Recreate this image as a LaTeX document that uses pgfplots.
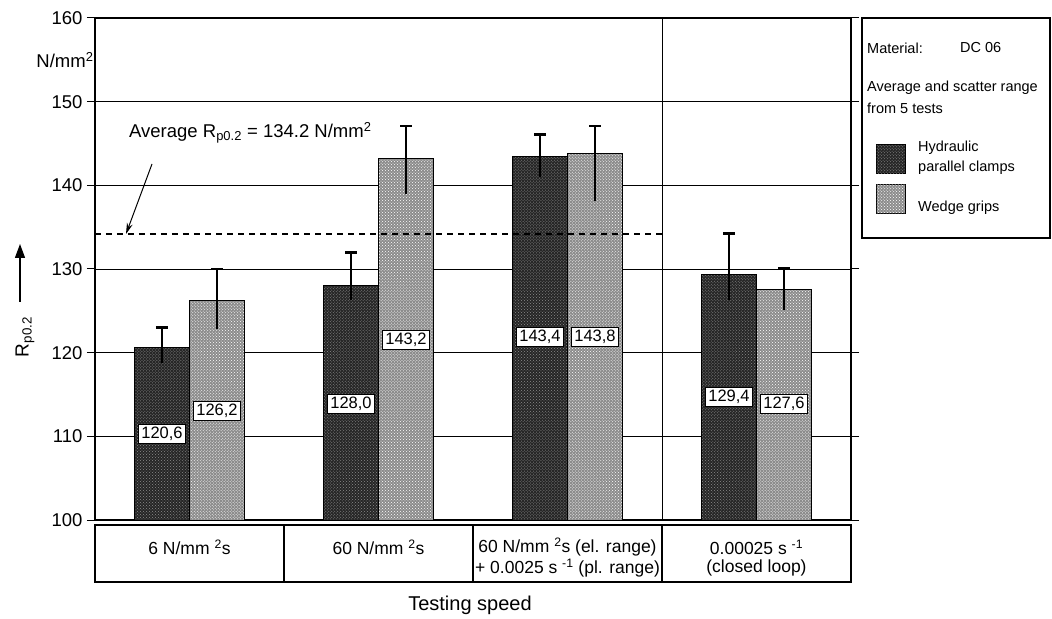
\documentclass[border=0pt]{standalone}
\usepackage{fontspec}
\setmainfont{Liberation Sans}
\usepackage{pgfplots}
\pgfplotsset{compat=1.18}
\usetikzlibrary{patterns,arrows.meta}

\tikzset{
  darkbar/.style={fill=black!85, postaction={pattern=crosshatch dots, pattern color=black!45}},
  lightbar/.style={fill=black!45, postaction={pattern=crosshatch dots, pattern color=white}},
}
\newcommand\fs[1]{\fontsize{#1bp}{#1bp}\selectfont}

\begin{document}
\begin{tikzpicture}
\useasboundingbox (-95bp,-99bp) rectangle (957bp,520bp);
\begin{axis}[
  scale only axis, width=756bp, height=502bp,
  ybar=0pt, bar width=55bp,
  xmin=-0.5, xmax=3.5, ymin=100, ymax=160,
  ytick={100,110,...,160},
  xtick={2.5}, xticklabels={}, xmajorgrids, ymajorgrids,
  major grid style={black, line width=0.9bp},
  axis line style={line width=1.2bp},
  y tick style={black, line width=1bp}, x tick style={draw=none},
  tick align=outside, major tick length=8bp,
  tick label style={font=\fs{18.5}},
  /pgf/number format/assume math mode=true,
  yticklabel style={xshift=-1bp},
  clip=false,
  every node near coord/.append style={anchor=center, draw=black, fill=white,
    line width=1bp, inner sep=2.5bp, font=\fs{16.5}},
]
% dark bars: hydraulic parallel clamps
\addplot[bar shift=-27.5bp, draw=black, line width=1bp, darkbar,
  error bars/.cd, y dir=plus, y explicit,
  error bar style={line width=2.8bp, black},
  error mark options={rotate=90, mark size=6bp, line width=2.8bp}]
  coordinates {(0,120.6) += (0,2.4) (1,128.0) += (0,4.0) (2,143.4) += (0,2.7) (3,129.4) += (0,4.8)};
% light bars: wedge grips
\addplot[bar shift=27.5bp, draw=black, line width=1bp, lightbar,
  error bars/.cd, y dir=plus, y explicit,
  error bar style={line width=2.8bp, black},
  error mark options={rotate=90, mark size=6bp, line width=2.8bp}]
  coordinates {(0,126.2) += (0,3.8) (1,143.2) += (0,3.9) (2,143.8) += (0,3.3) (3,127.6) += (0,2.5)};
% lower part of the scatter range
\addplot[bar shift=-27.5bp, draw=black, line width=1bp, fill=none,
  error bars/.cd, y dir=minus, y explicit, error mark=none,
  error bar style={line width=2.8bp, black}]
  coordinates {(0,120.6) -= (0,1.8) (1,128.0) -= (0,1.7) (2,143.4) -= (0,2.4) (3,129.4) -= (0,3.1)};
\addplot[bar shift=27.5bp, draw=black, line width=1bp, fill=none,
  error bars/.cd, y dir=minus, y explicit, error mark=none,
  error bar style={line width=2.8bp, black}]
  coordinates {(0,126.2) -= (0,3.4) (1,143.2) -= (0,4.2) (2,143.8) -= (0,5.7) (3,127.6) -= (0,2.5)};
% average line
\addplot[sharp plot, bar shift=0pt, black, line width=1.3bp, dash pattern=on 6bp off 5bp]
  coordinates {(-0.5,134.2) (2.5,134.2)};
% value labels
\addplot[bar shift=-27.5bp, draw=none, fill=none,
  nodes near coords, point meta=explicit symbolic]
  table[meta=lab, row sep=\\] {x y lab\\ 0 110.3 120,6\\ 1 113.9 128,0\\ 2 121.9 143,4\\ 3 114.7 129,4\\};
\addplot[bar shift=27.5bp, draw=none, fill=none,
  nodes near coords, point meta=explicit symbolic]
  table[meta=lab, row sep=\\] {x y lab\\ 0 113.0 126,2\\ 1 121.5 143,2\\ 2 121.9 143,8\\ 3 113.9 127,6\\};
\end{axis}

% axis texts
\node[font=\fs{18.5}] at (-30bp,460bp) {N/mm\textsuperscript{2}};
\node[font=\fs{19}, rotate=90] at (-70bp,183bp) {R\textsubscript{p0.2}};
\draw[line width=1.3bp, -{Triangle[width=10bp,length=14bp]}] (-75bp,218bp) -- (-75bp,276bp);
\node[font=\fs{18.5}, anchor=west, inner sep=0pt] at (34bp,387bp) {Average R\textsubscript{p0.2} = 134.2 N/mm\textsuperscript{2}};
\draw[line width=1bp, -{Stealth[length=11bp,width=6bp]}] (57bp,356bp) -- (31bp,286bp);

% speed table
\draw[line width=1.2bp] (0bp,-5bp) rectangle (756bp,-62bp);
\foreach \x in {189,378,567} \draw[line width=1.2bp] (\x bp,-5bp) -- (\x bp,-62bp);
\node[font=\fs{17.5}] at (94.5bp,-27bp) {6 N/mm \textsuperscript{2}s};
\node[font=\fs{17.5}] at (283.5bp,-27bp) {60 N/mm \textsuperscript{2}s};
\node[font=\fs{17.5}] at (472.5bp,-27bp) {60 N/mm \textsuperscript{2}s (el. range)};
\node[font=\fs{17.5}] at (472.5bp,-48bp) {+ 0.0025 s \textsuperscript{-1} (pl. range)};
\node[font=\fs{17.5}] at (661.5bp,-27bp) {0.00025 s \textsuperscript{-1}};
\node[font=\fs{17.5}] at (661.5bp,-48bp) {(closed loop)};
\node[font=\fs{20}] at (375bp,-85bp) {Testing speed};

% legend
\draw[line width=1.2bp] (767bp,502bp) rectangle (955bp,282bp);
\node[font=\fs{14.5}, anchor=west, inner sep=0pt] at (772bp,472bp) {Material:};
\node[font=\fs{14.5}, anchor=west, inner sep=0pt] at (865bp,472bp) {DC 06};
\node[font=\fs{14.5}, anchor=west, inner sep=0pt] at (772bp,432bp) {Average and scatter range};
\node[font=\fs{14.5}, anchor=west, inner sep=0pt] at (772bp,412bp) {from 5 tests};
\draw[line width=1bp, darkbar] (781bp,346bp) rectangle (810bp,375bp);
\draw[line width=1bp, lightbar] (781bp,306bp) rectangle (810bp,335bp);
\node[font=\fs{14.5}, anchor=west, inner sep=0pt] at (823bp,372bp) {Hydraulic};
\node[font=\fs{14.5}, anchor=west, inner sep=0pt] at (823bp,352bp) {parallel clamps};
\node[font=\fs{14.5}, anchor=west, inner sep=0pt] at (823bp,312bp) {Wedge grips};
\end{tikzpicture}
\end{document}
